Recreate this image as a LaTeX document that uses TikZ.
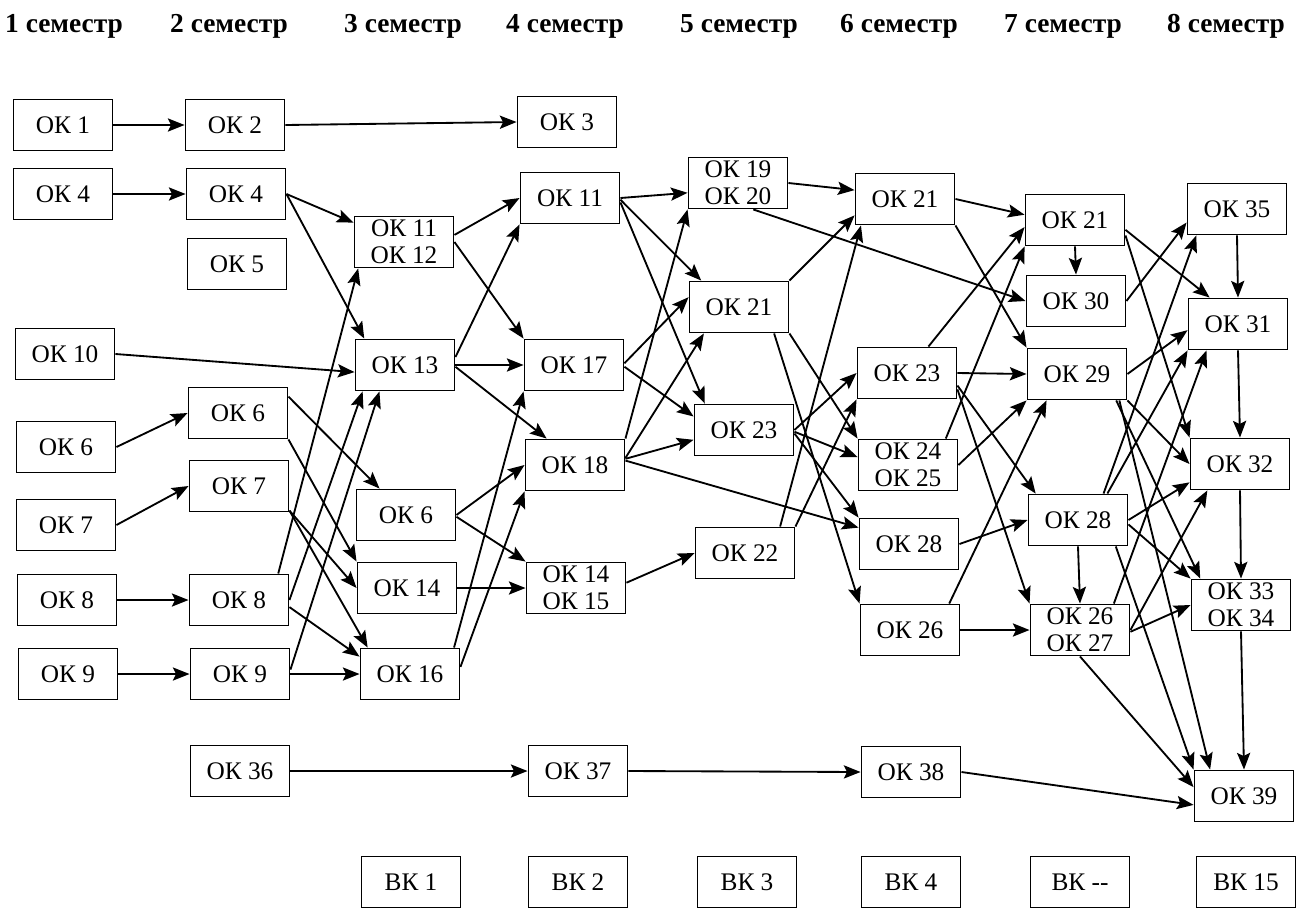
\documentclass[tikz,border=0pt]{standalone}
\usepackage{fontspec}
\setmainfont{Liberation Serif}
\usepackage{tikz}
\usetikzlibrary{arrows.meta}

\tikzset{
  ok/.style={draw, line width=1.1pt, minimum width=1.98cm, minimum height=1.02cm, inner sep=0pt, align=center, font=\fontsize{14.4}{15.6}\selectfont},
  sem/.style={anchor=base, font=\fontsize{15.6}{18}\selectfont\bfseries},
  link/.style={-{Stealth[length=9.5pt,width=7.5pt,inset=1.8pt]}, line width=1.05pt}
}

\begin{document}
\begin{tikzpicture}[x=0.02cm, y=-0.02cm]
        \useasboundingbox (0,0) rectangle (1298,910);

        \node[sem] (h1) at (64,32) {1 семестр};
        \node[sem] (h2) at (229,32) {2 семестр};
        \node[sem] (h3) at (403,32) {3 семестр};
        \node[sem] (h4) at (565,32) {4 семестр};
        \node[sem] (h5) at (739,32) {5 семестр};
        \node[sem] (h6) at (899,32) {6 семестр};
        \node[sem] (h7) at (1063,32) {7 семестр};
        \node[sem] (h8) at (1226,32) {8 семестр};

        \node[ok] (s1k1) at (63,125) {ОК 1};
        \node[ok] (s1k4) at (63,194) {ОК 4};
        \node[ok] (s1k10) at (65,354) {ОК 10};
        \node[ok] (s1k6) at (66,447) {ОК 6};
        \node[ok] (s1k7) at (66,525) {ОК 7};
        \node[ok] (s1k8) at (67,600) {ОК 8};
        \node[ok] (s1k9) at (68,674) {ОК 9};

        \node[ok] (s2k2) at (235,125) {ОК 2};
        \node[ok] (s2k4) at (236,194) {ОК 4};
        \node[ok] (s2k5) at (237,264) {ОК 5};
        \node[ok] (s2k6) at (238,413) {ОК 6};
        \node[ok] (s2k7) at (239,486) {ОК 7};
        \node[ok] (s2k8) at (239,600) {ОК 8};
        \node[ok] (s2k9) at (240,674) {ОК 9};
        \node[ok] (s2k36) at (240,771) {ОК 36};

        \node[ok] (s3k11) at (404,242) {ОК 11\\ОК 12};
        \node[ok] (s3k13) at (405,365) {ОК 13};
        \node[ok] (s3k6) at (406,515) {ОК 6};
        \node[ok] (s3k14) at (407,588) {ОК 14};
        \node[ok] (s3k16) at (410,674) {ОК 16};
        \node[ok] (s3v1) at (411,882) {ВК 1};

        \node[ok] (s4k3) at (567,122) {ОК 3};
        \node[ok] (s4k11) at (570,198) {ОК 11};
        \node[ok] (s4k17) at (574,365) {ОК 17};
        \node[ok] (s4k18) at (575,465) {ОК 18};
        \node[ok] (s4k14) at (576,588) {ОК 14\\ОК 15};
        \node[ok] (s4k37) at (578,771) {ОК 37};
        \node[ok] (s4v2) at (578,882) {ВК 2};

        \node[ok] (s5k19) at (738,183) {ОК 19\\ОК 20};
        \node[ok] (s5k21) at (739,307) {ОК 21};
        \node[ok] (s5k23) at (744,430) {ОК 23};
        \node[ok] (s5k22) at (745,553) {ОК 22};
        \node[ok] (s5v3) at (747,882) {ВК 3};

        \node[ok] (s6k21) at (905,199) {ОК 21};
        \node[ok] (s6k23) at (907,373) {ОК 23};
        \node[ok] (s6k24) at (908,465) {ОК 24\\ОК 25};
        \node[ok] (s6k28) at (909,544) {ОК 28};
        \node[ok] (s6k26) at (910,630) {ОК 26};
        \node[ok] (s6k38) at (911,772) {ОК 38};
        \node[ok] (s6v4) at (911,882) {ВК 4};

        \node[ok] (s7k21) at (1075,220) {ОК 21};
        \node[ok] (s7k30) at (1076,301) {ОК 30};
        \node[ok] (s7k29) at (1077,374) {ОК 29};
        \node[ok] (s7k28) at (1078,520) {ОК 28};
        \node[ok] (s7k26) at (1080,630) {ОК 26\\ОК 27};
        \node[ok] (s7v) at (1080,882) {ВК -{}-};

        \node[ok] (s8k35) at (1237,209) {ОК 35};
        \node[ok] (s8k31) at (1238,324) {ОК 31};
        \node[ok] (s8k32) at (1240,464) {ОК 32};
        \node[ok] (s8k33) at (1241,605) {ОК 33\\ОК 34};
        \node[ok] (s8k39) at (1244,796) {ОК 39};
        \node[ok] (s8v15) at (1246,882) {ВК 15};

        \foreach \a/\b in {s1k1.east/s2k2.west, s1k4.east/s2k4.west, s1k6.east/s2k6.west,
            s1k7.east/s2k7.west, s1k8.east/s2k8.west, s1k9.east/s2k9.west, s1k10.east/s3k13.188,
            s2k2.east/s4k3.west, s2k4.east/s3k11.159, s2k4.east/s3k13.147,
            s2k6.18/s3k6.135, s2k6.south east/s3k14.north west,
            s2k7.334/s3k14.west, s2k7.334/s3k16.148,
            s2k8.34/s3k11.210, s2k8.east/s3k13.212, s2k8.352/s3k16.161,
            s2k9.5/s3k13.226, s2k9.east/s3k16.west, s2k36.east/s4k37.west,
            s3k11.8/s4k11.west, s3k11.east/s4k17.north west,
            s3k13.9/s4k11.south west, s3k13.east/s4k17.west, s3k13.358/s4k18.137,
            s3k6.east/s4k18.west, s3k6.358/s4k14.north west, s3k14.east/s4k14.west,
            s3k16.31/s4k17.south west, s3k16.8/s4k18.south west,
            s4k11.east/s5k19.191, s4k11.358/s5k21.145, s4k11.355/s5k23.146,
            s4k17.2/s5k21.169, s4k17.358/s5k23.165,
            s4k18.north east/s5k19.south west, s4k18.8/s5k21.217, s4k18.7/s5k23.191,
            s4k18.5/s6k28.162, s4k14.6/s5k22.west,
            s5k19.east/s6k21.170, s5k19.300/s7k30.west,
            s5k21.north east/s6k21.198, s5k21.south east/s6k24.north west, s5k21.323/s6k26.north west,
            s5k23.east/s6k23.west, s5k23.358/s6k24.171, s5k23.356/s6k28.north west,
            s5k22.37/s6k21.211, s5k22.north east/s6k23.south west,
            s6k21.east/s7k21.174, s6k21.south east/s7k29.north west,
            s6k23.51/s7k21.188, s6k23.east/s7k29.west, s6k23.346/s7k28.148, s6k23.342/s7k26.north west,
            s6k24.35/s7k21.south west, s6k24.east/s7k29.south west,
            s6k28.east/s7k28.west, s6k26.34/s7k29.221, s6k26.east/s7k26.west,
            s4k37.east/s6k38.west, s6k38.east/s8k39.190,
            s7k21.south/s7k30.north, s7k28.south/s7k26.north,
            s7k21.349/s8k31.137, s7k21.343/s8k32.north west, s7k30.east/s8k35.195,
            s7k29.east/s8k31.187, s7k29.south east/s8k32.west, s7k29.326/s8k33.147, s7k29.328/s8k39.142,
            s7k28.46/s8k35.213, s7k28.42/s8k31.south west, s7k28.east/s8k32.200,
            s7k28.355/s8k33.north west, s7k28.325/s8k39.north west,
            s7k26.38/s8k31.220, s7k26.east/s8k32.219, s7k26.358/s8k33.west, s7k26.south/s8k39.170,
            s8k35.south/s8k31.north, s8k31.south/s8k32.north, s8k32.south/s8k33.north,
            s8k33.south/s8k39.north}
            \draw[link] (\a) -- (\b);
\end{tikzpicture}
\end{document}
